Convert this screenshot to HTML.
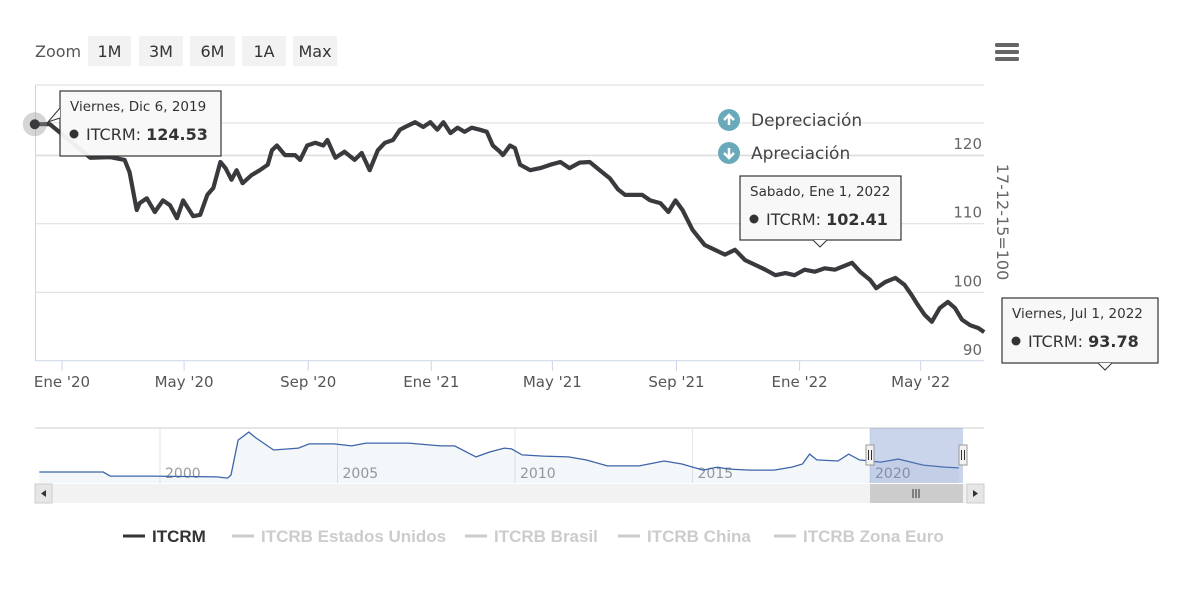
<!DOCTYPE html>
<html><head><meta charset="utf-8"><style>
body{margin:0;background:#fff;width:1200px;height:596px;overflow:hidden;font-family:"Liberation Sans","DejaVu Sans",sans-serif}
svg{position:absolute;left:0;top:0}
text{font-family:"DejaVu Sans","Liberation Sans",sans-serif}
</style></head><body>
<svg id="c" width="1200" height="596">
<g id="ui"></g>
</svg>
<script>
const mainDays=[-27,-12,28,48,62,67,74,77,84,92,100,107,114,120,130,137,144,150,157,162,168,173,179,188,196,204,208,213,221,231,236,243,251,259,263,271,280,290,297,305,313,320,328,335,340,350,358,365,372,378,385,392,399,406,414,421,427,434,437,444,449,454,464,474,484,494,503,513,523,533,543,551,558,566,575,583,593,601,608,615,625,637,647,657,667,677,687,697,707,717,726,736,746,756,766,783,791,801,807,816,826,835,842,848,855,862,870,878,885,892,900,908,914];
const mainVals=[124.5,124.5,119.6,119.7,119.3,117.5,112,113,113.7,111.7,113.4,112.7,110.8,113.4,111.1,111.3,114.2,115.2,119,118.1,116.4,117.8,115.9,117.1,117.8,118.6,120.7,121.4,120,120,119.3,121.4,121.8,121.4,122.2,119.6,120.5,119.3,120.3,117.8,120.7,121.8,122.2,123.7,124.1,124.8,124.1,124.8,123.7,124.8,123.2,124,123.4,124,123.7,123.4,121.4,120.5,120,121.4,121,118.6,117.8,118.1,118.6,119,118.1,118.9,119,117.8,116.6,115,114.2,114.2,114.2,113.4,113,111.7,113.4,112,109.1,106.9,106.2,105.5,106.2,104.7,104,103.3,102.5,102.8,102.5,103.3,103,103.5,103.3,104.3,103,101.8,100.6,101.5,102.1,101.1,99.6,98.2,96.7,95.7,97.7,98.6,97.7,96,95.2,94.8,94.2];
const yTicks=[90,100,110,120];
const xTickDays=[0,121,244,366,486,609,731,851];
const xTickLabels=["Ene '20","May '20","Sep '20","Ene '21","May '21","Sep '21","Ene '22","May '22"];
const navYears=[1996.6,1998.4,1998.6,1999.8,2001.6,2001.9,2002.0,2002.2,2002.5,2002.7,2003.2,2003.9,2004.2,2004.9,2005.4,2005.8,2007.0,2007.9,2008.3,2008.9,2009.3,2009.7,2009.9,2010.2,2010.8,2011.5,2012.0,2012.6,2013.5,2014.2,2014.7,2015.3,2015.7,2016.0,2016.6,2017.3,2017.8,2018.1,2018.3,2018.5,2019.1,2019.4,2019.7,2020.3,2020.8,2021.5,2022.1,2022.5];
const navVals=[100,100,85,85,82,78,89,216,245,224,180,187,202,202,195,205,205,195,195,155,173,187,184,162,158,155,144,122,122,140,129,107,118,111,107,107,118,129,165,144,140,165,144,136,147,125,118,115];
const navYearLabels=[2000,2005,2010,2015,2020];
const NS="http://www.w3.org/2000/svg";
const svg=document.getElementById('c');
function el(t,a,p){const e=document.createElementNS(NS,t);for(const k in a)e.setAttribute(k,a[k]);(p||svg).appendChild(e);return e;}
const xD=d=>62+d*1.009;
const yV=v=>292.3-(v-100)*6.86;
const xN=yr=>160+(yr-2000)*35.5;
const yN=v=>483-(v-60)*55/200;
let t=el('text',{x:35,y:57,'font-size':16,fill:'#555'});t.textContent='Zoom';


[['1M',88,131],['3M',139,183],['6M',190,235],['1A',242,286],['Max',293,337]].forEach(b=>{
 const g=el('g',{});
 
 
 el('rect',{x:b[1],y:36,width:b[2]-b[1],height:30,fill:'#f2f2f2'},g);
 const tt=el('text',{x:(b[1]+b[2])/2,y:57,'font-size':16,fill:'#333','text-anchor':'middle'},g);tt.textContent=b[0];
});
const menu=el('g',{});


[45,52,59].forEach(y=>el('rect',{x:995,y:y-2,width:24,height:4,rx:1.5,fill:'#666'},menu));
[85,123,155.7].forEach(y=>el('line',{x1:35,x2:984,y1:y,y2:y,stroke:'#dcdcdc','stroke-width':1}));
yTicks.forEach(v=>{
 const y=yV(v);
 if(v>90){el('line',{x1:35,x2:984,y1:y,y2:y,stroke:'#dcdcdc','stroke-width':1});}
 const tx=el('text',{x:982,y:y-6,'font-size':15,fill:'#666','text-anchor':'end'});tx.textContent=v;
 
 
});
el('line',{x1:35.5,x2:35.5,y1:85,y2:360.7,stroke:'#ccd6eb'});
el('line',{x1:35,x2:984,y1:360.7,y2:360.7,stroke:'#ccd6eb'});
xTickDays.forEach((d,i)=>{
 const x=xD(d);
 el('line',{x1:x,x2:x,y1:360.7,y2:371,stroke:'#ccd6eb'});
 const tx=el('text',{x:x,y:387,'font-size':15,fill:'#555','text-anchor':'middle'});tx.textContent=xTickLabels[i];
 
 
});
const yt=el('text',{x:0,y:0,'font-size':16,fill:'#666','text-anchor':'middle',transform:'translate(997,222) rotate(90)'});
yt.textContent='17-12-15=100';


[['Depreciación',120,'M0 5 L0 -5 M-5 0 L0 -5 L5 0'],['Apreciación',153,'M0 -5 L0 5 M-5 0 L0 5 L5 0']].forEach(a=>{
 const g=el('g',{});
 
 
 el('circle',{cx:729,cy:a[1],r:11,fill:'#6aa9ba'},g);
 el('path',{d:a[2],transform:`translate(729,${a[1]})`,stroke:'#fff','stroke-width':2.5,fill:'none'},g);
 const tx=el('text',{x:751,y:a[1]+6,'font-size':17,fill:'#444'},g);tx.textContent=a[0];
});
let d='';mainDays.forEach((dd,i)=>{d+=(i?'L':'M')+xD(dd).toFixed(1)+' '+yV(mainVals[i]).toFixed(1);});
const ln=el('path',{d:d,fill:'none',stroke:'#3a3a3e','stroke-width':4.2,'stroke-linejoin':'round'});


el('circle',{cx:xD(mainDays[0]),cy:yV(mainVals[0]),r:12,fill:'rgba(150,150,150,0.4)'});
el('circle',{cx:xD(mainDays[0]),cy:yV(mainVals[0]),r:5,fill:'#3a3a3e'});
function tip(x,y,w,h,date,val,pointer,name){
 const g=el('g',{});
 
 
 el('rect',{x:x,y:y,width:w,height:h,fill:'rgba(248,248,248,0.95)',stroke:'#333','stroke-width':1.2},g);
 if(pointer)el('path',{d:`M${pointer-7} ${y+h} L${pointer} ${y+h+7} L${pointer+7} ${y+h}`,fill:'#f8f8f8',stroke:'#333'},g);
 const a=el('text',{x:x+10,y:y+20,'font-size':13.5,fill:'#333'},g);a.textContent=date;
 el('circle',{cx:x+14,cy:y+43,r:4.5,fill:'#333'},g);
 const b=el('text',{x:x+26,y:y+49,'font-size':16,fill:'#333'},g);b.textContent='ITCRM: ';
 const s=el('tspan',{'font-weight':'bold'},b);s.textContent=val;
 return g;
}
const t1=tip(60,91,161,65,'Viernes, Dic 6, 2019','124.53',0,'tooltip-start');
el('path',{d:'M60 108 L48 122 L60 118',fill:'#f8f8f8',stroke:'#333'},t1);
tip(740,176,161,64,'Sabado, Ene 1, 2022','102.41',820,'tooltip-mid');
tip(1002,298,156,65,'Viernes, Jul 1, 2022','93.78',1105,'tooltip-end');
el('line',{x1:35,x2:984,y1:428,y2:428,stroke:'#ccc'});
[2000,2005,2010,2015,2020].forEach((yr,i)=>{
 const x=xN(yr);
 el('line',{x1:x,x2:x,y1:428,y2:483,stroke:'#e6e6e6'});
 const tx=el('text',{x:x+5,y:478,'font-size':14,fill:'#999'});tx.textContent=navYearLabels[i];
 
 
});
let nd='';navYears.forEach((yr,i)=>{nd+=(i?'L':'M')+xN(yr).toFixed(1)+' '+yN(navVals[i]).toFixed(1);});
el('path',{d:nd+`L${xN(navYears[navYears.length-1])} 483 L${xN(navYears[0])} 483Z`,fill:'rgba(69,114,167,0.06)'});
const nl=el('path',{d:nd,fill:'none',stroke:'#3d64a8','stroke-width':1.3});


const sel=el('rect',{x:870,y:428,width:93,height:55,fill:'rgba(102,133,194,0.35)'});


[870,963].forEach(x=>{const h=el('g',{});
 
 
 el('rect',{x:x-4,y:445,width:8,height:20,fill:'#f2f2f2',stroke:'#999'},h);
 el('line',{x1:x-1.5,x2:x-1.5,y1:450,y2:460,stroke:'#333'},h);el('line',{x1:x+1.5,x2:x+1.5,y1:450,y2:460,stroke:'#333'},h);});
const sb=el('g',{});


el('rect',{x:35,y:484,width:949,height:19,fill:'#f2f2f2'},sb);
el('rect',{x:35,y:484,width:17,height:19,fill:'#e6e6e6',stroke:'#ccc'},sb);
el('rect',{x:967,y:484,width:17,height:19,fill:'#e6e6e6',stroke:'#ccc'},sb);
el('path',{d:'M46 490 L41 493.5 L46 497Z',fill:'#333'},sb);
el('path',{d:'M973 490 L978 493.5 L973 497Z',fill:'#333'},sb);
el('rect',{x:870,y:484,width:93,height:19,fill:'#cccccc'},sb);
[913,916,919].forEach(x=>el('line',{x1:x,x2:x,y1:489,y2:498,stroke:'#333'},sb));
[['ITCRM',123,true],['ITCRB Estados Unidos',232,false],['ITCRB Brasil',465,false],['ITCRB China',618,false],['ITCRB Zona Euro',774,false]].forEach(l=>{
 const g=el('g',{});
 
 
 el('line',{x1:l[1],x2:l[1]+22,y1:536,y2:536,stroke:l[2]?'#333':'#ccc','stroke-width':3},g);
 const tx=el('text',{x:l[1]+29,y:542,'font-size':17,'font-weight':'bold',fill:l[2]?'#333':'#ccc',style:'font-family:"Liberation Sans",sans-serif'},g);tx.textContent=l[0];
});
</script>
</body></html>
